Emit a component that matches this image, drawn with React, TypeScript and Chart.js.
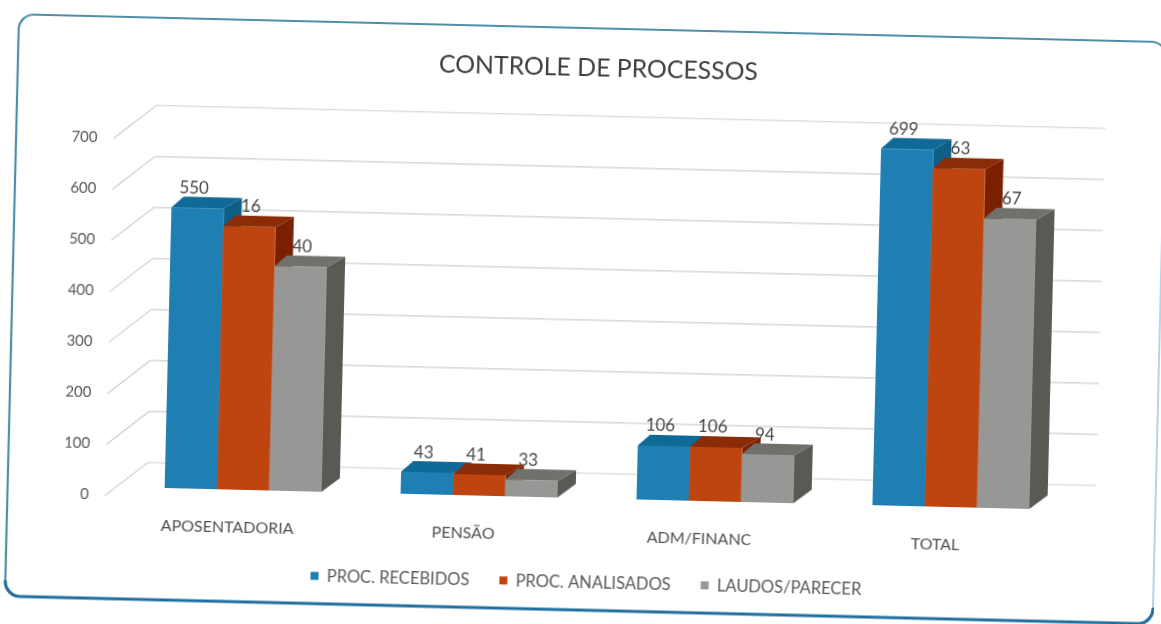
import React, { useEffect, useRef } from "react";
import { Chart, registerables } from "chart.js";

Chart.register(...registerables);

const categories = ["APOSENTADORIA", "PENSÃO", "ADM/FINANC", "TOTAL"];
const recebidos = [550, 43, 106, 699];
const analisados = [516, 41, 106, 663];
const laudos = [440, 33, 94, 567];
const seriesNames = ["PROC. RECEBIDOS", "PROC. ANALISADOS", "LAUDOS/PARECER"];
const frontColors = ["#1f7fb3", "#bf4510", "#979795"];
const topColors = ["#0f6a97", "#8a2c08", "#71716c"];
const sideColors = ["#0d5f88", "#7a2000", "#5a5a55"];

const FONT = "Lato, 'Open Sans', sans-serif";
const DEPTH_Y = 11;
const DEPTH_L = 12;
const DEPTH_R = 18;

function poly(ctx: CanvasRenderingContext2D, pts: number[][], fill: string) {
  ctx.beginPath();
  pts.forEach((p, i) => (i ? ctx.lineTo(p[0], p[1]) : ctx.moveTo(p[0], p[1])));
  ctx.closePath();
  ctx.fillStyle = fill;
  ctx.fill();
}

const framePlugin = {
  id: "frame",
  beforeDraw(chart: any) {
    const ctx = chart.ctx as CanvasRenderingContext2D;
    const x0 = 12, y0 = 28, x1 = 1160, y1 = 610, r = 15;
    ctx.save();
    ctx.fillStyle = "#ffffff";
    ctx.fillRect(-20, -20, chart.width + 40, chart.height + 40);
    ctx.lineCap = "round";
    const seg = (color: string, w: number, draw: () => void) => {
      ctx.beginPath();
      draw();
      ctx.strokeStyle = color;
      ctx.lineWidth = w;
      ctx.stroke();
    };
    seg("#4f8ea6", 2.2, () => {
      ctx.moveTo(x0, y1 - r);
      ctx.lineTo(x0, y0 + r);
      ctx.arcTo(x0, y0, x0 + r, y0, r);
      ctx.lineTo(x1 - r, y0);
      ctx.arcTo(x1, y0, x1, y0 + r, r);
    });
    seg("#9cc6dc", 1.5, () => {
      ctx.moveTo(x1, y0 + r);
      ctx.lineTo(x1, y1 - r);
    });
    seg("#1f6f9f", 3.2, () => {
      ctx.moveTo(x0, y1 - r);
      ctx.arcTo(x0, y1, x0 + r, y1, r);
      ctx.lineTo(x1 - r, y1);
      ctx.arcTo(x1, y1, x1, y1 - r, r);
    });
    ctx.restore();
  },
};

const bars3dPlugin = {
  id: "bars3d",
  beforeDatasetsDraw(chart: any) {
    const ctx = chart.ctx as CanvasRenderingContext2D;
    const { x, y: yScale } = chart.scales;
    ctx.save();
    ctx.strokeStyle = "#cfcfcf";
    ctx.lineWidth = 1.2;
    yScale.ticks.forEach((t: any) => {
      const py = yScale.getPixelForValue(t.value);
      ctx.beginPath();
      ctx.moveTo(x.left - 20, py + 9);
      ctx.lineTo(x.left + 22, py - 25);
      ctx.lineTo(x.right + 27, py - 25);
      ctx.stroke();
    });
    ctx.fillStyle = "#484848";
    ctx.font = `17px ${FONT}`;
    ctx.textAlign = "center";
    ctx.textBaseline = "middle";
    chart.data.datasets.forEach((ds: any, i: number) => {
      chart.getDatasetMeta(i).data.forEach((bar: any, j: number) => {
        ctx.fillText(String(ds.data[j]), bar.x - 4, bar.y - 20);
      });
    });
    chart.data.datasets.forEach((_: any, i: number) => {
      chart.getDatasetMeta(i).data.forEach((bar: any) => {
        const l = bar.x - bar.width / 2;
        const r = bar.x + bar.width / 2;
        const t = bar.y;
        const b = bar.base;
        poly(ctx, [[r, t], [r + DEPTH_R, t - DEPTH_Y], [r + DEPTH_R, b - DEPTH_Y - 3], [r, b]], sideColors[i]);
        poly(ctx, [[l, t], [l + DEPTH_L, t - DEPTH_Y], [r + DEPTH_R, t - DEPTH_Y], [r, t]], topColors[i]);
        bar.draw(ctx);
      });
    });
    ctx.restore();
    return false;
  },
};

export default function App() {
  const ref = useRef<HTMLCanvasElement>(null);
  useEffect(() => {
    const values = [recebidos, analisados, laudos];
    const chart = new Chart(ref.current as HTMLCanvasElement, {
      type: "bar",
      data: {
        labels: categories,
        datasets: seriesNames.map((label, i) => ({
          label,
          data: values[i],
          backgroundColor: frontColors[i],
          borderWidth: 0,
          barPercentage: 1,
          categoryPercentage: 0.665,
        })),
      },
      options: {
        responsive: false,
        animation: false,
        layout: { padding: { left: 24, right: 0, top: 0, bottom: 23.5 } },
        plugins: {
          title: {
            display: true,
            text: "CONTROLE DE PROCESSOS",
            color: "#404040",
            font: { family: FONT, size: 24.8, weight: "normal" },
            padding: { top: 53, bottom: 58 },
          },
          legend: {
            position: "bottom",
            labels: {
              boxWidth: 8,
              boxHeight: 8,
              padding: 30,
              color: "#595959",
              font: { family: FONT, size: 16.5 },
            },
          },
          tooltip: { enabled: false },
        },
        scales: {
          x: {
            grid: { display: false, drawTicks: false },
            border: { display: false },
            ticks: {
              color: "#505050",
              font: { family: FONT, size: 16 },
              padding: 28,
              labelOffset: -15,
              maxRotation: 0,
            },
            afterFit(axis: any) {
              axis.height = 46;
            },
          },
          y: {
            min: 0,
            max: 700,
            grid: { display: false, drawTicks: false },
            border: { display: false },
            ticks: {
              stepSize: 100,
              color: "#595959",
              font: { family: FONT, size: 15 },
              padding: 36,
              labelOffset: 8,
            },
            afterFit(axis: any) {
              axis.width = 105.5;
            },
          },
          spacer: {
            position: "right",
            display: true,
            grid: { display: false, drawTicks: false },
            border: { display: false },
            ticks: { display: false },
            afterFit(axis: any) {
              axis.width = 87.5;
            },
          },
        },
      },
      plugins: [framePlugin, bars3dPlugin],
    } as any);
    return () => chart.destroy();
  }, []);
  return (
    <div style={{ position: "fixed", left: 0, top: 0, width: 1161, height: 624, overflow: "hidden", background: "#fff" }}>
      <canvas
        ref={ref}
        width={1161}
        height={624}
        style={{
          display: "block",
          width: 1161,
          height: 624,
          transform: "rotate(1.39deg)",
          transformOrigin: "580px 312px",
          filter: "blur(0.7px)",
        }}
      />
    </div>
  );
}
